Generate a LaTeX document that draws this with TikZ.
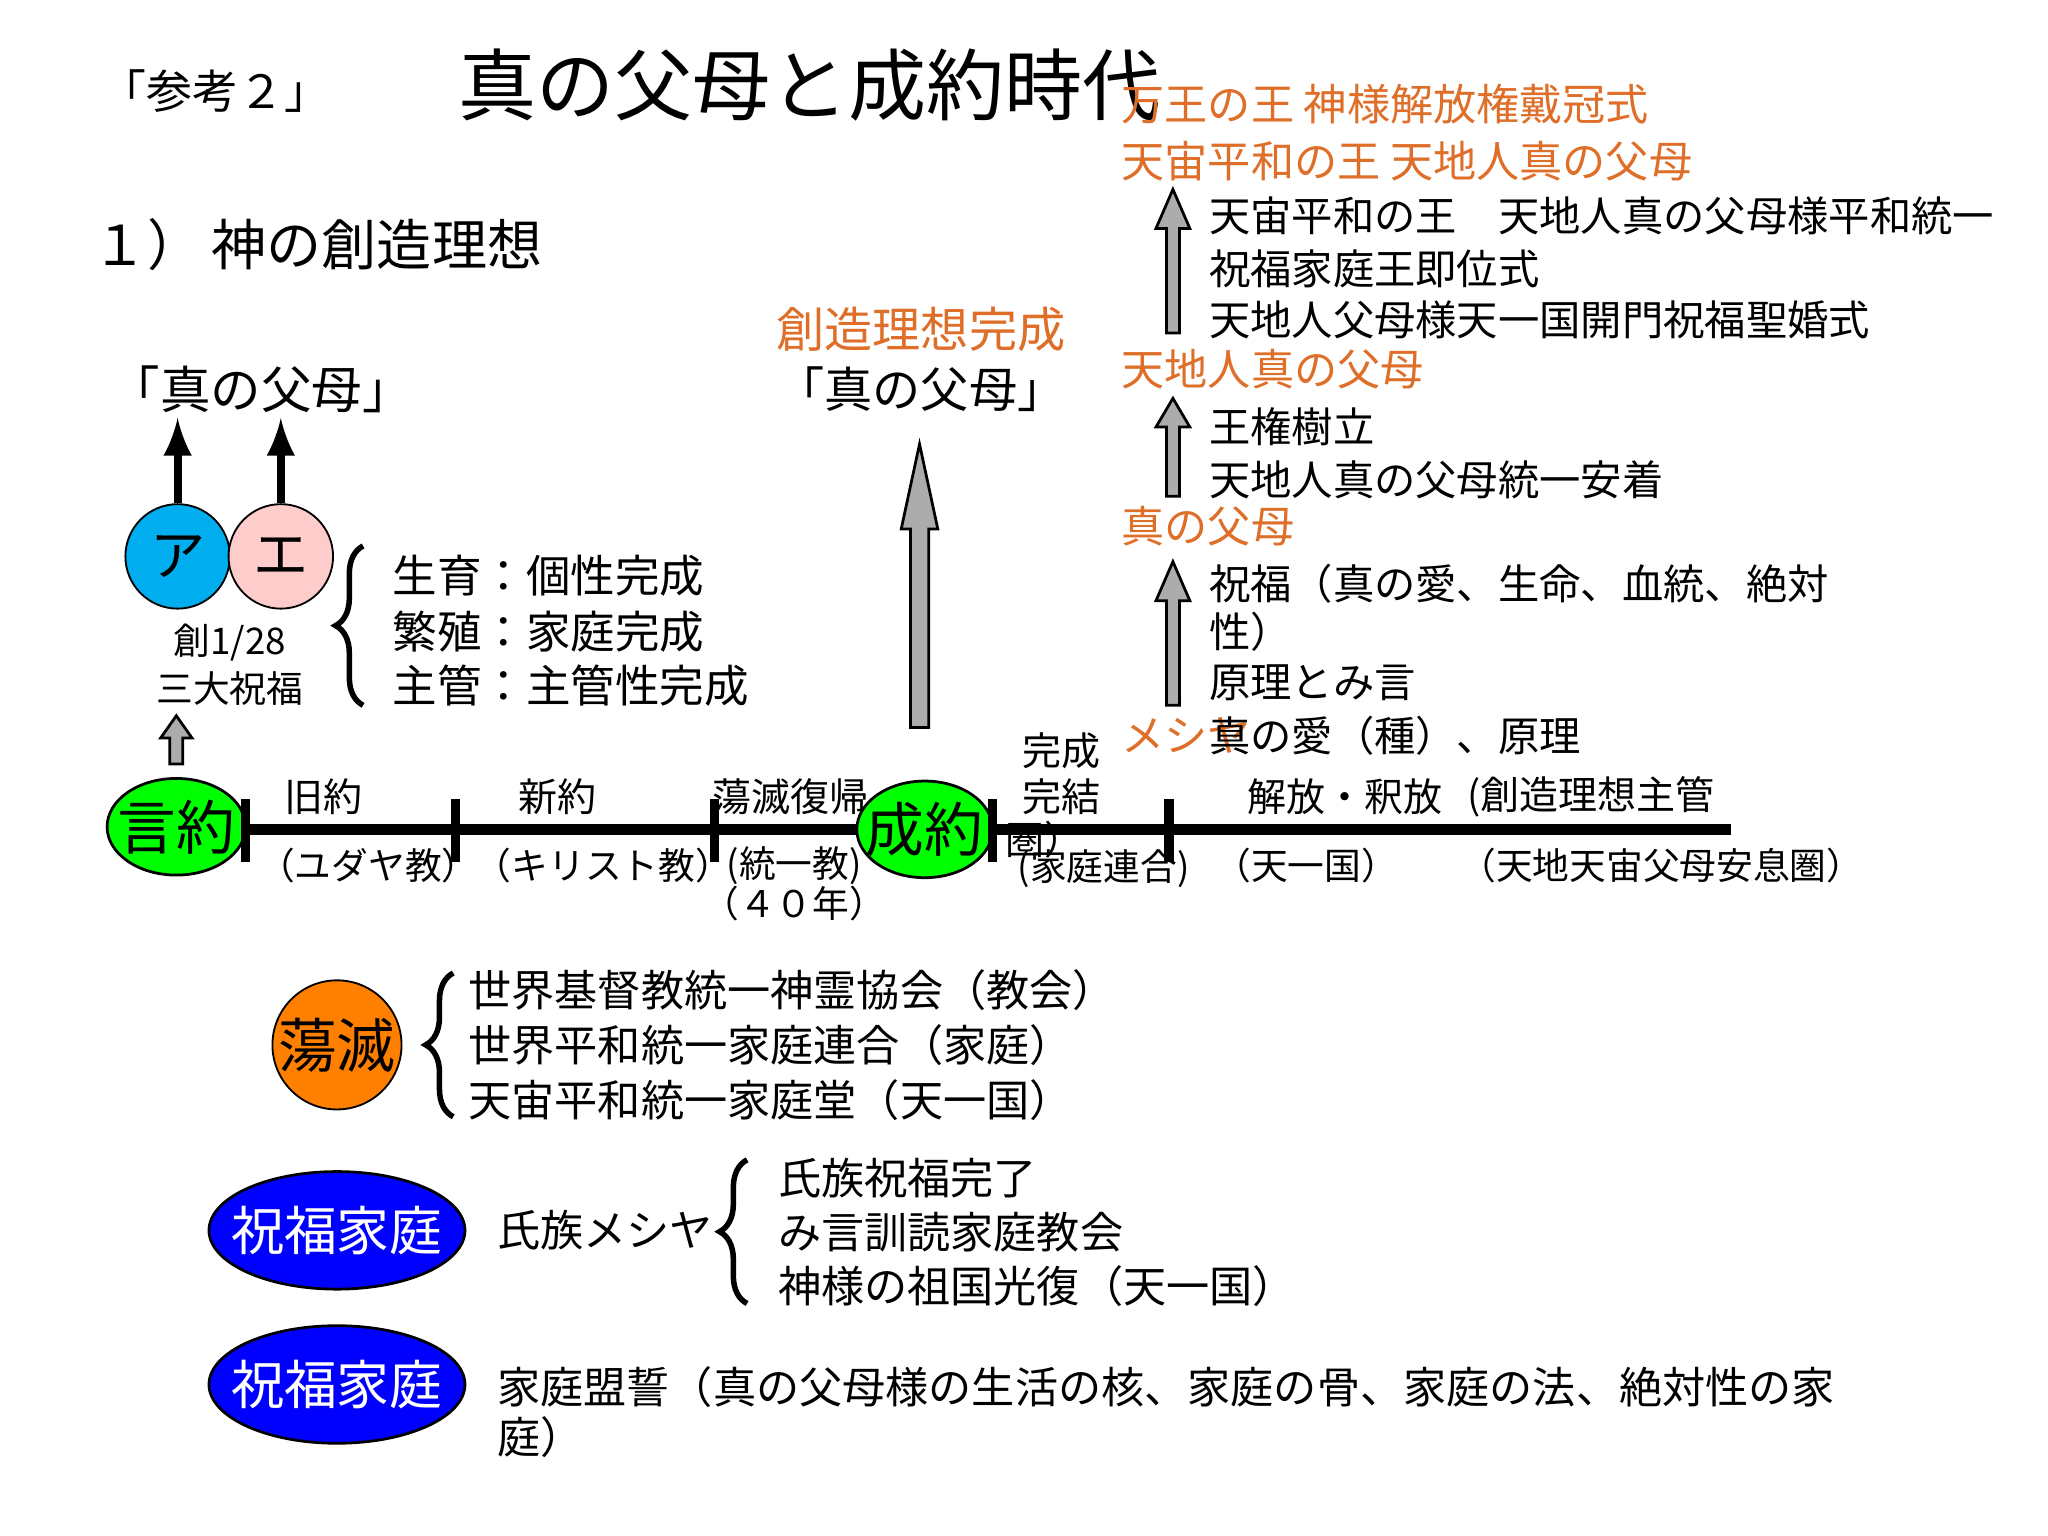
\documentclass[tikz,border=0pt]{standalone}
\usepackage{fontspec}
\setmainfont{Noto Sans CJK JP}
\usetikzlibrary{decorations.pathreplacing,shapes.geometric}
\definecolor{org}{RGB}{222,110,40}
\newcommand{\fatup}[6]{\draw[fill=gray!65,line width=0.6pt] ({#1-#4},#2)--({#1-#4},{#3-#6})--({#1-#5},{#3-#6})--(#1,#3)--({#1+#5},{#3-#6})--({#1+#4},{#3-#6})--({#1+#4},#2)--cycle;}
\begin{document}
\begin{tikzpicture}[
  fs/.style={font=\fontsize{#1}{#1}\selectfont},
  lt/.style={anchor=west,inner sep=0pt},
  og/.style={text=org},
  brc/.style={decorate,decoration={brace,amplitude=6pt,mirror},line width=1.2pt},
  tk/.style={line width=2pt},
  ell/.style={draw,line width=0.6pt}]
\useasboundingbox[fill=white] (0,0) rectangle (15.68,-11.76);
\node[fs=10] (ref) at (1.65,-0.70) {「参考２」};
\node[fs=17] (title) at (6.2,-0.65) {真の父母と成約時代};
\node[fs=12,lt] (sub) at (0.7,-1.87) {１）\,神の創造理想};
% Adam Eve
\node[fs=11] (tp) at (2.0,-2.98) {「真の父母」};
\node[circle,draw,fill=cyan,minimum size=0.8cm,inner sep=0pt,fs=12] (a) at (1.36,-4.26) {ア};
\node[circle,draw,fill=red!20,minimum size=0.8cm,inner sep=0pt,fs=12] (e) at (2.15,-4.26) {エ};
\coordinate (at) at (1.36,-3.2); \coordinate (et) at (2.15,-3.2);
\draw[-latex,line width=1.8pt] (a) -- (at);
\draw[-latex,line width=1.8pt] (e) -- (et);
\node[fs=8] (s1) at (1.76,-4.92) {創1/28};
\node[fs=8] (s2) at (1.76,-5.27) {三大祝福};
\draw[brc] (2.78,-4.18) -- (2.78,-5.40);
\node[fs=9.7,lt] (b1) at (3.0,-4.41) {生育：個性完成};
\node[fs=9.7,lt] (b2) at (3.0,-4.84) {繁殖：家庭完成};
\node[fs=9.7,lt] (b3) at (3.0,-5.25) {主管：主管性完成};
\fatup{1.35}{-5.85}{-5.48}{0.05}{0.12}{0.17}
% timeline
\draw[line width=2.5pt] (1.85,-6.35) -- (13.25,-6.35);
\draw[ell,fill=green] (1.35,-6.33) ellipse (0.53 and 0.37);
\draw[ell,fill=green] (7.08,-6.35) ellipse (0.52 and 0.37);
\node[fs=12.8,inner sep=0pt] (gen) at (1.35,-6.33) {言約};
\node[fs=12.8,inner sep=0pt] (sei) at (7.08,-6.35) {成約};
\foreach \x in {1.88,3.49,5.47,7.60,8.95} \draw[tk] (\x,-6.12) -- (\x,-6.60);
\node[fs=8.5] (l1) at (2.48,-6.10) {旧約};
\node[fs=8.5] (l2) at (4.27,-6.10) {新約};
\node[fs=8.5] (l3) at (6.05,-6.10) {蕩滅復帰};
\node[fs=8.5] (l4) at (8.13,-5.75) {完成};
\node[fs=8.5] (l5) at (8.13,-6.10) {完結};
\node[fs=8.5] (l6) at (8.00,-6.43) {圏）};
\node[fs=8.5] (l7) at (10.30,-6.10) {解放・釈放};
\node[fs=8.5] (l8) at (12.18,-6.10) {(創造理想主管};
\node[fs=8] (m1) at (2.82,-6.63) {（ユダヤ教）};
\node[fs=8] (m2) at (4.62,-6.63) {（キリスト教）};
\node[fs=8] (m3) at (6.08,-6.63) {(統一教)};
\node[fs=8] (m4) at (6.08,-6.92) {（４０年）};
\node[fs=8] (m5) at (8.45,-6.65) {(家庭連合)};
\node[fs=8] (m6) at (10.00,-6.63) {（天一国）};
\node[fs=8] (m7) at (12.72,-6.63) {（天地天宙父母安息圏）};
% center arrow
\fatup{7.04}{-5.57}{-3.40}{0.07}{0.14}{0.65}
\node[fs=10.5,og] (cz) at (7.05,-2.52) {創造理想完成};
\node[fs=10.5] (cz2) at (7.05,-2.98) {「真の父母」};
% right column
\node[fs=9.4,og,lt] (o1) at (8.58,-0.80) {万王の王 神様解放権戴冠式};
\node[fs=9.4,og,lt] (o2) at (8.58,-1.23) {天宙平和の王 天地人真の父母};
\node[fs=9,lt] (r1) at (9.25,-1.65) {天宙平和の王　天地人真の父母様平和統一};
\node[fs=9,lt] (r2) at (9.25,-2.06) {祝福家庭王即位式};
\node[fs=9,lt] (r3) at (9.25,-2.45) {天地人父母様天一国開門祝福聖婚式};
\node[fs=9.4,og,lt] (o3) at (8.58,-2.83) {天地人真の父母};
\node[fs=9,lt] (r4) at (9.25,-3.27) {王権樹立};
\node[fs=9,lt] (r5) at (9.25,-3.67) {天地人真の父母統一安着};
\node[fs=9.4,og,lt] (o4) at (8.58,-4.03) {真の父母};
\node[fs=9,lt] (r6) at (9.25,-4.47) {祝福（真の愛、生命、血統、絶対};
\node[fs=9,lt] (r7) at (9.25,-4.84) {性）};
\node[fs=9,lt] (r8) at (9.25,-5.23) {原理とみ言};
\node[fs=9.4,og,lt] (o5) at (8.58,-5.63) {メシヤ};
\node[fs=9,lt] (r9) at (9.25,-5.63) {真の愛（種）、原理};
\fatup{8.98}{-2.55}{-1.45}{0.05}{0.13}{0.30}
\fatup{8.98}{-3.80}{-3.05}{0.05}{0.13}{0.22}
\fatup{8.98}{-5.40}{-4.30}{0.05}{0.13}{0.30}
% bottom
\node[circle,draw,fill=orange,minimum size=0.96cm,inner sep=0pt,fs=12.8] (tm) at (2.58,-8.00) {蕩滅};
\draw[brc] (3.47,-7.45) -- (3.47,-8.55);
\node[fs=9.4,lt] (t1) at (3.58,-7.58) {世界基督教統一神霊協会（教会）};
\node[fs=9.4,lt] (t2) at (3.58,-8.00) {世界平和統一家庭連合（家庭）};
\node[fs=9.4,lt] (t3) at (3.58,-8.42) {天宙平和統一家庭堂（天一国）};
\draw[ell,fill=blue] (2.58,-9.42) ellipse (0.98 and 0.45);
\node[fs=11.5,text=white,inner sep=0pt] (sk1) at (2.58,-9.42) {祝福家庭};
\node[fs=9.4,lt] (sz) at (3.80,-9.42) {氏族メシヤ};
\draw[brc] (5.72,-8.88) -- (5.72,-9.98);
\node[fs=9.4,lt] (u1) at (5.95,-9.02) {氏族祝福完了};
\node[fs=9.4,lt] (u2) at (5.95,-9.43) {み言訓読家庭教会};
\node[fs=9.4,lt] (u3) at (5.95,-9.85) {神様の祖国光復（天一国）};
\draw[ell,fill=blue] (2.58,-10.60) ellipse (0.98 and 0.45);
\node[fs=11.5,text=white,inner sep=0pt] (sk2) at (2.58,-10.60) {祝福家庭};
\node[fs=9.4,lt] (v1) at (3.80,-10.62) {家庭盟誓（真の父母様の生活の核、家庭の骨、家庭の法、絶対性の家};
\node[fs=9.4,lt] (v2) at (3.80,-11.00) {庭）};
\end{tikzpicture}
\end{document}
